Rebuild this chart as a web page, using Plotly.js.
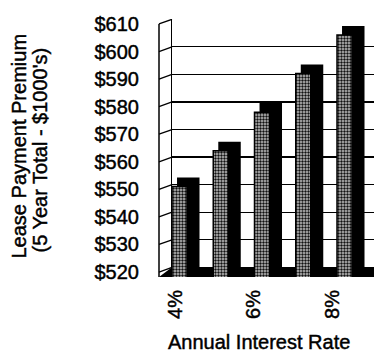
<!DOCTYPE html>
<html>
<head>
<meta charset="utf-8">
<script src="https://cdn.plot.ly/plotly-3.0.1.min.js"></script>
<style>
html,body{margin:0;padding:0;background:#fff;}
#chart{width:374px;height:357px;}
#chart text{stroke:#000 !important;stroke-width:0.45px !important;}
</style>
</head>
<body>
<div id="chart"></div>
<script>
// ---- data ----
const categories = ['4%', '5%', '6%', '7%', '8%'];
const premiums = [551, 564, 578, 592, 606];
const tickLabelsX = ['4%', '6%', '8%'];
const yTickValues = [520, 530, 540, 550, 560, 570, 580, 590, 600, 610];
const yTickLabels = yTickValues.map(v => '$' + v);

// ---- layout constants (pixels) ----
const W = 374, H = 357;
const L = 172, R = 0, T = 19, B = 80;
const plotW = W - L - R, plotH = H - T - B;
const frontEdgePx = 159;
const px = x => (x - L) / plotW;         // pixel x -> paper x
const py = y => (H - B - y) / plotH;     // pixel y -> paper y

const yRange = [518.2, 611.8];
const depth = 1.7;                        // back-wall shift in value units
const y2Range = [yRange[0] - depth, yRange[1] - depth];
const sideDepth = 3.3;
const FONT = 'Arial, "Liberation Sans", sans-serif';

const front = {
  type: 'bar', x: categories, y: premiums,
  xaxis: 'x', yaxis: 'y',
  width: 0.364, offset: -0.182,
  marker: {
    color: '#ffffff',
    line: {color: '#000', width: 1.5},
    pattern: {shape: '.', fgcolor: '#111', bgcolor: '#c4c4c4', size: 3, solidity: 0.5, fillmode: 'replace'}
  },
  hoverinfo: 'skip', showlegend: false
};
const side = {
  type: 'bar', x: categories, y: premiums.map(v => v + sideDepth),
  xaxis: 'x', yaxis: 'y',
  width: 0.545, offset: -0.06,
  marker: {color: '#000', line: {width: 0}},
  hoverinfo: 'skip', showlegend: false
};
const ghost = {
  type: 'scatter', mode: 'markers', x: categories, y: premiums,
  xaxis: 'x2', yaxis: 'y2', marker: {opacity: 0}, hoverinfo: 'skip', showlegend: false
};

const shapes = [];
const xf = px(frontEdgePx);
yTickValues.forEach(v => {
  shapes.push({type: 'line', xref: 'paper', yref: 'y', x0: xf, x1: 0, y0: v, y1: v + depth,
    line: {color: '#000', width: 1.3}, layer: 'above'});
});
shapes.push({type: 'line', xref: 'paper', yref: 'y', x0: xf, x1: xf, y0: yRange[0], y1: 610,
  line: {color: '#000', width: 1.5}});
shapes.push({type: 'path', xref: 'paper', yref: 'y',
  path: `M ${xf} ${yRange[0]} L 1 ${yRange[0]} L 1 ${520 + depth} L 0 ${520 + depth} Z`,
  fillcolor: '#000', line: {width: 0}, layer: 'below'});

const layout = {
  width: W, height: H,
  margin: {l: L, r: R, t: T, b: B, pad: 0},
  paper_bgcolor: '#fff', plot_bgcolor: 'rgba(0,0,0,0)',
  barmode: 'overlay',
  font: {family: FONT, size: 20, color: '#000'},
  xaxis: {type: 'category', categoryorder: 'array', categoryarray: categories,
    range: [-0.182, 4.715], showticklabels: false, ticks: '', showgrid: false, zeroline: false, showline: false, fixedrange: true},
  xaxis2: {type: 'category', categoryorder: 'array', categoryarray: categories, overlaying: 'x', side: 'bottom',
    range: [-0.076, 5.04], tickvals: tickLabelsX, ticktext: tickLabelsX, tickangle: -90,
    ticks: 'outside', ticklen: 4, tickcolor: 'rgba(0,0,0,0)', showgrid: false, zeroline: false, showline: false,
    tickfont: {family: FONT, size: 20, color: '#000'}},
  yaxis: {range: yRange, tickvals: yTickValues, ticktext: yTickLabels,
    ticks: 'outside', ticklen: 28, tickcolor: 'rgba(0,0,0,0)', showgrid: false, zeroline: false, showline: false,
    tickfont: {family: FONT, size: 20, color: '#000'}},
  yaxis2: {range: y2Range, overlaying: 'y', side: 'left', tickvals: yTickValues, showticklabels: false, ticks: '',
    showgrid: true, gridcolor: '#000', gridwidth: 1.3, zeroline: false, showline: true, linecolor: '#000', linewidth: 1.3},
  shapes: shapes,
  annotations: [
    {text: 'Lease Payment Premium', xref: 'paper', yref: 'paper', x: px(18), y: py(146.5), textangle: -90,
     showarrow: false, xanchor: 'center', yanchor: 'middle', font: {family: FONT, size: 20, color: '#000'}},
    {text: "(5 Year Total - $1000's)", xref: 'paper', yref: 'paper', x: px(39), y: py(150.5), textangle: -90,
     showarrow: false, xanchor: 'center', yanchor: 'middle', font: {family: FONT, size: 20, color: '#000'}},
    {text: 'Annual Interest Rate', xref: 'paper', yref: 'paper', x: px(259), y: py(341.7),
     showarrow: false, xanchor: 'center', yanchor: 'middle', font: {family: FONT, size: 20, color: '#000'}}
  ]
};

Plotly.newPlot('chart', [side, front, ghost], layout, {displayModeBar: false, staticPlot: true});
</script>
</body>
</html>
